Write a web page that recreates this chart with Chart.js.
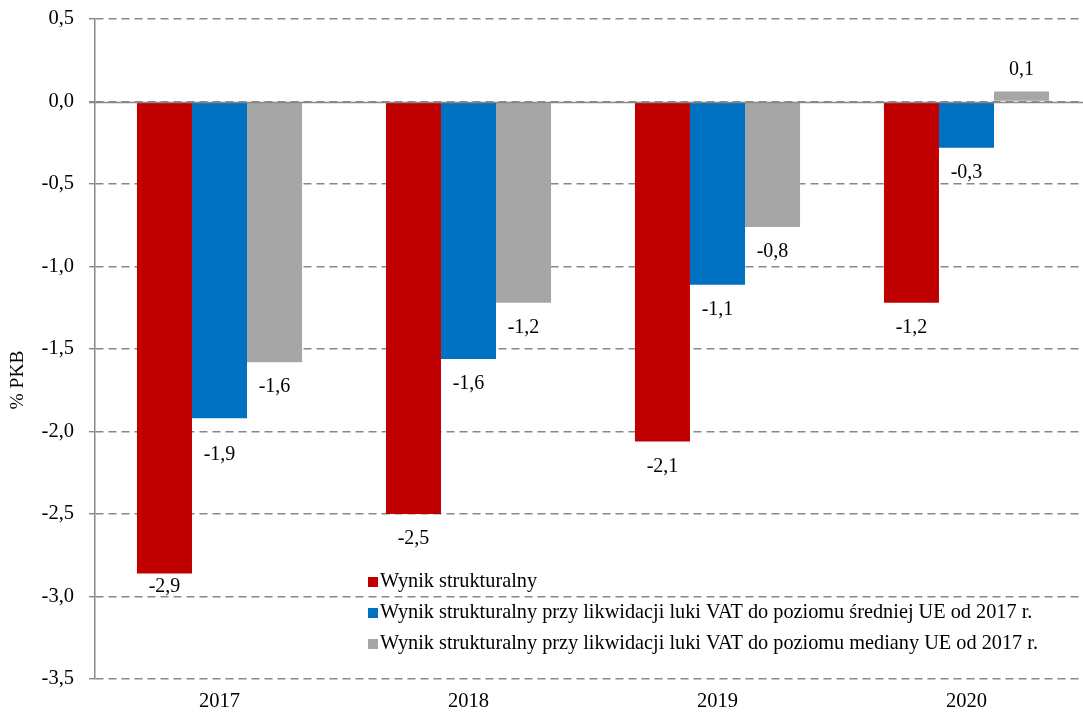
<!DOCTYPE html>
<html>
<head>
<meta charset="utf-8">
<script src="https://cdn.jsdelivr.net/npm/chart.js@4"></script>
<style>
  html, body { margin: 0; padding: 0; overflow: hidden; background: #fff; }
  #wrap { width: 1092px; height: 717px; }
</style>
</head>
<body>
<div id="wrap"><canvas id="c" width="1092" height="717"></canvas></div>
<script>
const categories = ['2017', '2018', '2019', '2020'];
const seriesNames = [
  'Wynik strukturalny',
  'Wynik strukturalny przy likwidacji luki VAT do poziomu średniej UE od 2017 r.',
  'Wynik strukturalny przy likwidacji luki VAT do poziomu mediany UE od 2017 r.'
];
const wynikStrukturalny = [-2.86, -2.50, -2.06, -1.22];
const wynikSrednia = [-1.92, -1.56, -1.11, -0.28];
const wynikMediana = [-1.58, -1.22, -0.76, 0.06];
const yMin = -3.5, yMax = 0.5, yStep = 0.5;
const yTitle = '% PKB';

const colors = ['#C00000', '#0070C0', '#A6A6A6'];
const SERIF = '"Liberation Serif", "Times New Roman", serif';
const fmt = v => v.toFixed(1).replace('.', ',').replace('-0,0', '0,0');

const valueLabels = {
  id: 'valueLabels',
  afterDatasetsDraw(chart, args, opts) {
    const ctx = chart.ctx;
    ctx.save();
    ctx.font = opts.font;
    ctx.fillStyle = '#000';
    ctx.textAlign = 'center';
    ctx.textBaseline = 'middle';
    chart.data.datasets.forEach((ds, di) => {
      const meta = chart.getDatasetMeta(di);
      meta.data.forEach((bar, i) => {
        const v = ds.data[i];
        const shift = (opts.shift[di] && opts.shift[di][i]) || 0;
        const y = v < 0 ? bar.y + opts.gap + shift : bar.y - opts.gapUp;
        ctx.fillText(fmt(v), bar.x, y);
      });
    });
    ctx.restore();
  }
};

const zeroLine = {
  id: 'zeroLine',
  afterDatasetsDraw(chart) {
    const {ctx, chartArea, scales} = chart;
    const y = Math.round(scales.y.getPixelForValue(0)) + 0.5;
    ctx.save();
    ctx.strokeStyle = '#888888';
    ctx.lineWidth = 1.5;
    ctx.beginPath();
    ctx.moveTo(chartArea.left - 6, y);
    ctx.lineTo(chartArea.right, y);
    ctx.stroke();
    ctx.restore();
  }
};

const customLegend = {
  id: 'customLegend',
  afterDraw(chart, args, opts) {
    const ctx = chart.ctx;
    ctx.save();
    ctx.font = opts.font;
    ctx.textAlign = 'left';
    ctx.textBaseline = 'middle';
    chart.data.datasets.forEach((ds, i) => {
      const y = opts.y + i * opts.rowGap;
      ctx.fillStyle = ds.backgroundColor;
      ctx.fillRect(opts.x, y - 5, 10, 10);
      ctx.fillStyle = '#000';
      ctx.fillText(ds.label, opts.x + 12, y);
    });
    ctx.restore();
  }
};

const axisTitle = {
  id: 'axisTitle',
  afterDraw(chart, args, opts) {
    const ctx = chart.ctx;
    ctx.save();
    ctx.font = opts.font;
    ctx.fillStyle = '#000';
    ctx.textAlign = 'center';
    ctx.textBaseline = 'middle';
    ctx.translate(opts.x, opts.y);
    ctx.rotate(-Math.PI / 2);
    ctx.fillText(opts.text, 0, 0);
    ctx.restore();
  }
};

const seriesData = [wynikStrukturalny, wynikSrednia, wynikMediana];

new Chart(document.getElementById('c'), {
  type: 'bar',
  data: {
    labels: categories,
    datasets: seriesData.map((d, i) => ({
      label: seriesNames[i],
      data: d,
      backgroundColor: colors[i],
      borderWidth: 0,
      barPercentage: 1.0,
      categoryPercentage: 0.663
    }))
  },
  options: {
    responsive: false,
    animation: false,
    layout: { padding: { top: 19, right: 1, bottom: 0, left: 0 } },
    plugins: {
      legend: { display: false },
      tooltip: { enabled: false },
      valueLabels: {
        font: '20px ' + SERIF,
        gap: 25, gapUp: 22,
        shift: [[-12, 0, 0, 0], [11, 0, 0, 0], [0, 0, 0, 0]]
      },
      customLegend: { font: '20.3px ' + SERIF, x: 368, y: 582, rowGap: 31 },
      axisTitle: { font: '19.5px ' + SERIF, x: 18, y: 380, text: yTitle }
    },
    scales: {
      x: {
        grid: { display: false, drawTicks: false },
        border: { display: false },
        ticks: { color: '#000', font: { family: SERIF, size: 20.5 }, padding: 10 },
        afterFit(s) { s.height = 38; s.paddingLeft = 0; s.paddingRight = 0; }
      },
      y: {
        min: yMin, max: yMax,
        ticks: {
          stepSize: yStep,
          color: '#000',
          font: { family: SERIF, size: 20.5 },
          padding: 15,
          callback: v => fmt(v)
        },
        grid: { color: '#888888', lineWidth: 1.4, tickLength: 6, tickColor: '#888888', tickWidth: 1.4, tickBorderDash: [] },
        border: { display: true, color: '#888888', width: 1.5, dash: [8, 5] },
        afterFit(s) { s.width = 95; s.paddingTop = 0; s.paddingBottom = 0; }
      }
    }
  },
  plugins: [valueLabels, zeroLine, customLegend, axisTitle]
});
</script>
</body>
</html>
